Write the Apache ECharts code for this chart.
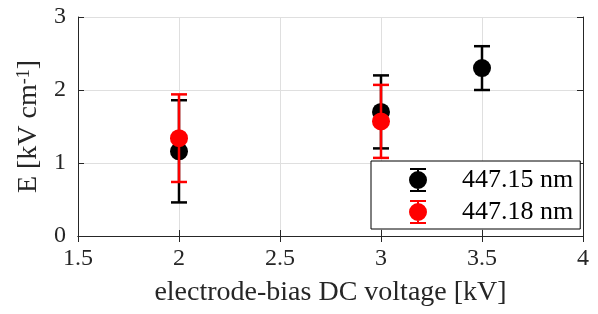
<!DOCTYPE html>
<html>
<head>
<meta charset="utf-8">
<script src="https://cdn.jsdelivr.net/npm/echarts@6/dist/echarts.min.js"></script>
<style>
    html, body { margin: 0; padding: 0; background: #fff; }
    #chart { width: 598px; height: 314px; }
</style>
</head>
<body>
<div id="chart"></div>
<script>
const FONT = "'Liberation Serif', 'Times New Roman', serif";

// 447.15 nm line
const voltageA = [2, 3, 3.5];
const fieldA = [1.16, 1.70, 2.30];
const errA = [0.70, 0.50, 0.30];

// 447.18 nm line
const voltageB = [2, 3];
const fieldB = [1.34, 1.57];
const errB = [0.60, 0.50];

const seriesNames = ["447.15 nm", "447.18 nm"];
const colors = ["#000000", "#ff0000"];

const legendIcon = "path://M-8,-12h16v2h-16z M-1,-12h2v24h-2z M-8,10h16v2h-16z " +
    "M-9,0a9,9 0 1,1 18,0a9,9 0 1,1 -18,0z";

function errorData(xs, ys, es) {
    return xs.map((x, i) => [x, ys[i] - es[i], ys[i] + es[i]]);
}

function renderErrorBar(color) {
    return function (params, api) {
        const x = api.value(0);
        const lo = api.coord([x, api.value(1)]);
        const hi = api.coord([x, api.value(2)]);
        const half = 8;
        const style = { stroke: color, lineWidth: 2.5 };
        return {
            type: "group",
            children: [
                { type: "line", shape: { x1: lo[0], y1: lo[1], x2: hi[0], y2: hi[1] }, style: style },
                { type: "line", shape: { x1: lo[0] - half, y1: lo[1], x2: lo[0] + half, y2: lo[1] }, style: style },
                { type: "line", shape: { x1: hi[0] - half, y1: hi[1], x2: hi[0] + half, y2: hi[1] }, style: style }
            ]
        };
    };
}

const chart = echarts.init(document.getElementById("chart"));

const axisLine = { show: true, lineStyle: { color: "#262626", width: 1 } };
const tick = { show: true, inside: true, length: 6, lineStyle: { color: "#262626" } };
const tickText = { t: { fontFamily: FONT, fontSize: 24, color: "#262626" } };

chart.setOption({
    animation: false,
    textStyle: { fontFamily: FONT },
    grid: {
        left: 78,
        right: 15,
        top: 17,
        bottom: 78
    },
    xAxis: [
        {
            type: "value",
            min: 1.5,
            max: 4,
            interval: 0.5,
            name: "electrode-bias DC voltage [kV]",
            nameLocation: "middle",
            nameGap: 43,
            nameTextStyle: { fontFamily: FONT, fontSize: 28, color: "#262626" },
            axisLine: axisLine,
            axisTick: tick,
            axisLabel: {
                margin: 11,
                formatter: v => "{t|" + v + "}",
                rich: tickText
            },
            splitLine: { show: true, lineStyle: { color: "#dfdfdf", width: 1 } }
        },
        {
            type: "value",
            position: "top",
            min: 1.5,
            max: 4,
            interval: 0.5,
            axisLine: axisLine,
            axisTick: tick,
            axisLabel: { show: false },
            splitLine: { show: false }
        }
    ],
    yAxis: [
        {
            type: "value",
            min: 0,
            max: 3,
            interval: 1,
            name: "{a|E [kV cm}{b|-1}{a|]}",
            nameLocation: "middle",
            nameRotate: 90,
            nameGap: 32,
            nameTextStyle: {
                color: "#262626",
                rich: {
                    a: { fontFamily: FONT, fontSize: 28, color: "#262626" },
                    b: { fontFamily: FONT, fontSize: 18, color: "#262626", verticalAlign: "top", padding: [0, 0, 10, 0] }
                }
            },
            axisLine: axisLine,
            axisTick: tick,
            axisLabel: {
                margin: 12,
                formatter: v => "{t|" + v + "}",
                rich: tickText
            },
            splitLine: { show: true, lineStyle: { color: "#dfdfdf", width: 1 } }
        },
        {
            type: "value",
            position: "right",
            min: 0,
            max: 3,
            interval: 1,
            axisLine: axisLine,
            axisTick: tick,
            axisLabel: { show: false },
            splitLine: { show: false }
        }
    ],
    legend: {
        orient: "vertical",
        left: 371,
        top: 161,
        padding: [6, 7, 4, 38],
        itemGap: 6,
        itemWidth: 18,
        itemHeight: 24,
        backgroundColor: "#fff",
        borderColor: "#000",
        borderWidth: 1,
        borderRadius: 0,
        selectedMode: false,
        formatter: name => "{t|" + name + "}",
        textStyle: {
            fontFamily: FONT,
            fontSize: 26,
            color: "#000",
            rich: {
                t: { fontFamily: FONT, fontSize: 26, color: "#000", padding: [0, 0, 0, 30] }
            }
        },
        data: seriesNames.map(n => ({ name: n, icon: legendIcon }))
    },
    series: [
        {
            name: "errA",
            type: "custom",
            renderItem: renderErrorBar(colors[0]),
            data: errorData(voltageA, fieldA, errA),
            z: 2
        },
        {
            name: seriesNames[0],
            type: "scatter",
            symbol: "circle",
            symbolSize: 18,
            itemStyle: { color: colors[0], opacity: 1 },
            data: voltageA.map((x, i) => [x, fieldA[i]]),
            z: 3
        },
        {
            name: "errB",
            type: "custom",
            renderItem: renderErrorBar(colors[1]),
            data: errorData(voltageB, fieldB, errB),
            z: 4
        },
        {
            name: seriesNames[1],
            type: "scatter",
            symbol: "circle",
            symbolSize: 18,
            itemStyle: { color: colors[1], opacity: 1 },
            data: voltageB.map((x, i) => [x, fieldB[i]]),
            z: 5
        }
    ]
});
</script>
</body>
</html>
